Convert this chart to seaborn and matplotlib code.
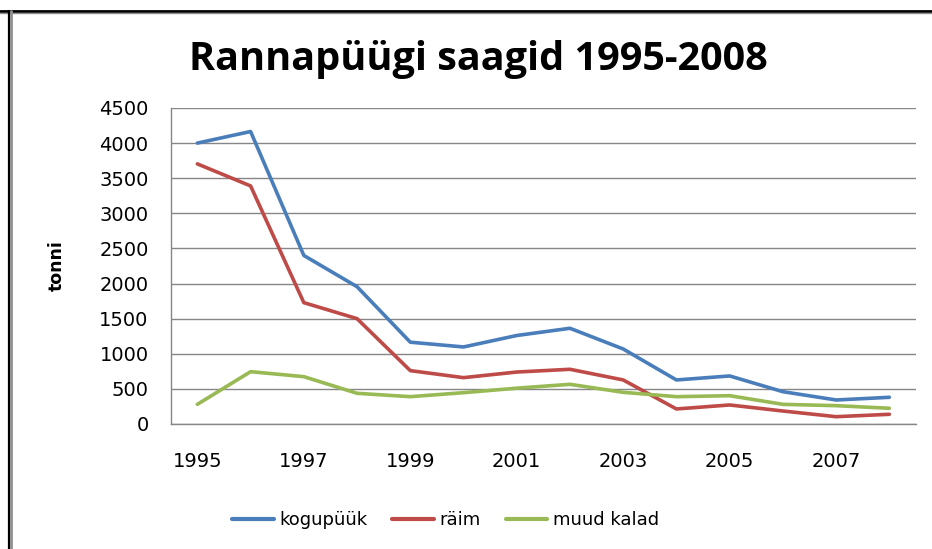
import numpy as np
import pandas as pd
import matplotlib
matplotlib.use("Agg")
import matplotlib.pyplot as plt
from matplotlib.lines import Line2D
from matplotlib.ticker import MultipleLocator
import seaborn as sns

# data
years = list(range(1995, 2009))
kogupyyk = [4000, 4165, 2400, 1955, 1165, 1097, 1260, 1363, 1068, 627, 684, 460, 342, 380]
raim = [3704, 3390, 1728, 1500, 760, 660, 740, 779, 627, 214, 271, 185, 104, 138]
muud_kalad = [280, 745, 674, 437, 389, 446, 510, 565, 451, 389, 403, 280, 261, 224]
series_names = ["kogupüük", "räim", "muud kalad"]
colors = ["#4A7EBB", "#BE4B48", "#98B954"]

df = pd.DataFrame({"aasta": years, "kogupüük": kogupyyk, "räim": raim, "muud kalad": muud_kalad})
long = df.melt(id_vars="aasta", var_name="liik", value_name="tonni")

sns.set_theme(style="white")
plt.rcParams["font.family"] = ["DejaVu Sans"]
plt.rcParams["text.color"] = "black"
plt.rcParams["axes.labelcolor"] = "black"

fig = plt.figure(figsize=(9.32, 5.49), dpi=100)
ax = fig.add_axes([0.1832, 0.2277, 0.7996, 0.5756])

sns.lineplot(data=long, x="aasta", y="tonni", hue="liik", hue_order=series_names,
             palette=colors, linewidth=2.6, ax=ax, legend=False)

ax.set_xlim(1994.5, 2008.5)
ax.set_ylim(0, 4500)
ax.yaxis.set_major_locator(MultipleLocator(500))
ax.set_xticks(years[::2])
ax.set_xticklabels([str(y) for y in years[::2]])
ax.set_xticks(np.arange(1994.5, 2009, 1), minor=True)
ax.tick_params(axis="x", which="major", length=0, pad=20, labelsize=14, labelcolor="black")
ax.tick_params(axis="x", which="minor", length=6, width=1, color="#868686", direction="out")
ax.tick_params(axis="y", which="major", length=6, width=1, color="#868686", direction="out",
               labelsize=14, pad=10, labelcolor="black")
ax.grid(axis="y", color="#868686", linewidth=1)
ax.set_axisbelow(True)
for s in ["top", "right"]:
    ax.spines[s].set_visible(False)
for s in ["left", "bottom"]:
    ax.spines[s].set_color("#868686")
    ax.spines[s].set_linewidth(1)

ax.set_xlabel("")
ax.set_ylabel("tonni", fontsize=12.5, fontweight="bold", labelpad=24)

fig.text(0.513, 0.892, "Rannapüügi saagid 1995-2008", ha="center", va="center",
         fontsize=28.5, fontweight="bold", family="Open Sans", color="black")

handles = [Line2D([0], [0], color=c, linewidth=3) for c in colors]
fig.legend(handles, series_names, loc="center", bbox_to_anchor=(0.478, 0.053), ncol=3,
           frameon=False, handlelength=2.3, handletextpad=0.3, columnspacing=1.4,
           prop={"family": "DejaVu Sans", "size": 13})

# outer frame (top and left edges)
fig.add_artist(Line2D([0, 1], [1 - 11 / 549] * 2, transform=fig.transFigure, color="black", linewidth=2))
fig.add_artist(Line2D([0, 1], [1 - 13 / 549] * 2, transform=fig.transFigure, color="#909090", linewidth=1))
fig.add_artist(Line2D([8.5 / 932] * 2, [0, 1 - 11 / 549], transform=fig.transFigure, color="black", linewidth=1.6))
fig.add_artist(Line2D([11 / 932] * 2, [0, 1 - 11 / 549], transform=fig.transFigure, color="#909090", linewidth=2))

fig.savefig("out.png", dpi=100)
